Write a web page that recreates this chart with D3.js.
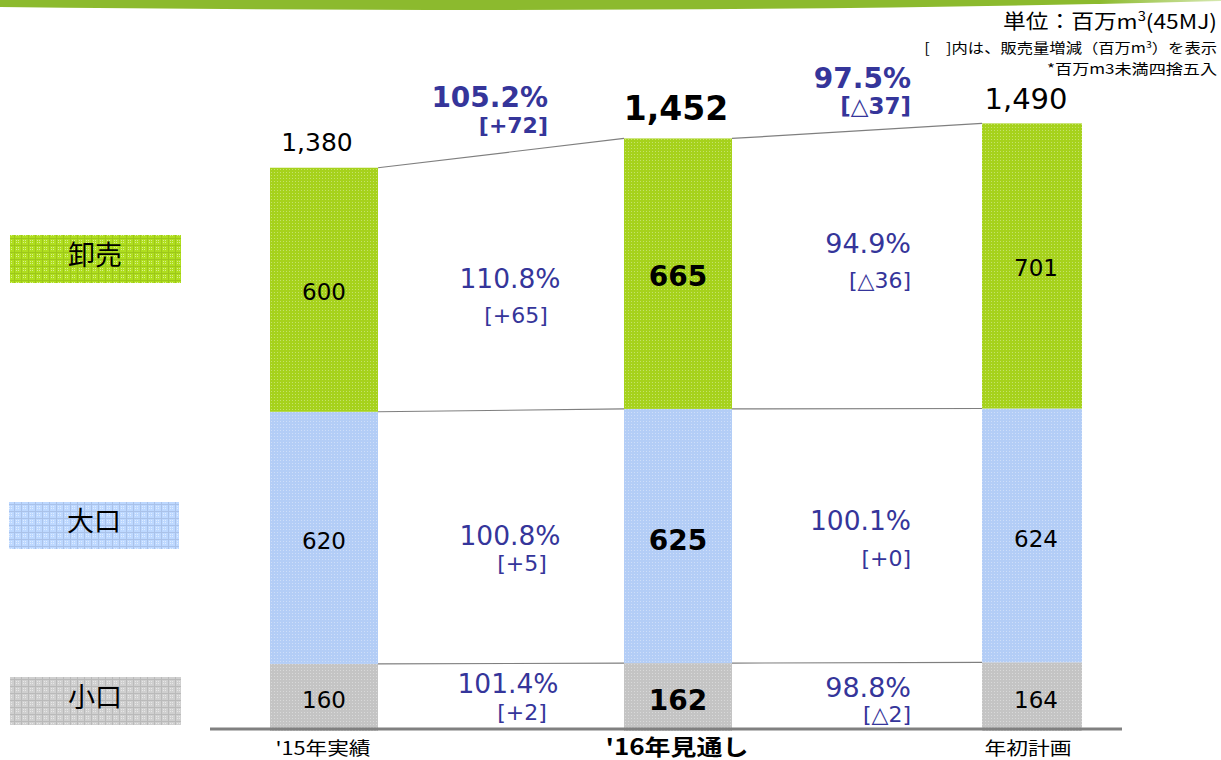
<!DOCTYPE html>
<html><head><meta charset="utf-8">
<script src="https://cdn.jsdelivr.net/npm/d3@7"></script>
<style>
html,body{margin:0;padding:0;background:#fff;}
svg{display:block;}
text{font-family:"DejaVu Sans","Noto Sans CJK JP",sans-serif;}
.jp{font-family:"Noto Sans CJK JP","DejaVu Sans",sans-serif;}
</style></head>
<body>
<script>
const categories = ["'15年実績", "'16年見通し", "年初計画"];
const segments = ["小口", "大口", "卸売"];
const small = [160, 162, 164];
const large = [620, 625, 624];
const wholesale = [600, 665, 701];
const totals = [1380, 1452, 1490];
const totalLabels = ["1,380", "1,452", "1,490"];
// change annotations between adjacent bars: [pct, diff]
const changeTotal = [["105.2%", "[+72]"], ["97.5%", "[△37]"]];
const changeWholesale = [["110.8%", "[+65]"], ["94.9%", "[△36]"]];
const changeLarge = [["100.8%", "[+5]"], ["100.1%", "[+0]"]];
const changeSmall = [["101.4%", "[+2]"], ["98.8%", "[△2]"]];

const W = 1221, H = 760;
const svg = d3.select("body").append("svg").attr("width", W).attr("height", H);
const defs = svg.append("defs");

// horizontally stretch a text to a target width, keeping its anchor
function fitWidth(sel, target, anchor) {
  const node = sel.node();
  const bb = node.getBBox();
  const sx = target / bb.width;
  const ax = anchor === "end" ? bb.x + bb.width : anchor === "middle" ? bb.x + bb.width / 2 : bb.x;
  sel.attr("transform", `translate(${ax},0) scale(${sx},1) translate(${-ax},0)`);
}

// top swoosh
const g0 = defs.append("linearGradient").attr("id", "topg").attr("x1", 0).attr("x2", 1);
g0.append("stop").attr("offset", 0).attr("stop-color", "#8cba2e");
g0.append("stop").attr("offset", 0.9).attr("stop-color", "#8cba2e");
g0.append("stop").attr("offset", 1).attr("stop-color", "#d6e8b0");
svg.append("path").attr("d", "M0,0 L1221,0 L1221,1 Q700,15 0,7 Z").attr("fill", "url(#topg)");

const colors = {"卸売": "#a6d21c", "大口": "#b3cdf6", "小口": "#c4c4c4"};
const keyId = {"卸売": "w", "大口": "l", "小口": "s"};
Object.entries(colors).forEach(([k, c]) => {
  const p = defs.append("pattern").attr("id", "bar-" + keyId[k]).attr("patternUnits", "userSpaceOnUse").attr("width", 3).attr("height", 3);
  p.append("rect").attr("width", 3).attr("height", 3).attr("fill", c);
  p.append("rect").attr("x", 1).attr("y", 1).attr("width", 1).attr("height", 1).attr("fill", "#fff").attr("opacity", 0.35);
  const q = defs.append("pattern").attr("id", "leg-" + keyId[k]).attr("patternUnits", "userSpaceOnUse").attr("width", 7).attr("height", 7);
  q.append("rect").attr("width", 7).attr("height", 7).attr("fill", d3.color(c).brighter(0.15));
  q.append("rect").attr("width", 7).attr("height", 1).attr("fill", d3.color(c).darker(0.15));
  q.append("rect").attr("width", 1).attr("height", 7).attr("fill", d3.color(c).darker(0.15));
  [[2, 2], [4, 4], [2, 4], [4, 2]].forEach(([a, b]) =>
    q.append("rect").attr("x", a).attr("y", b).attr("width", 1).attr("height", 1).attr("fill", "#fff").attr("opacity", 0.5));
});

const x = d3.scalePoint().domain(categories).range([324, 1032]);
const bw = [108, 108, 100];
const y = d3.scaleLinear().domain([0, 1490]).range([729, 123]);

const rows = categories.map((c, i) => ({cat: c, "小口": small[i], "大口": large[i], "卸売": wholesale[i]}));
const stack = d3.stack().keys(segments)(rows);

const purple = "#35359a";
// connector lines
stack.forEach(layer => {
  for (let i = 0; i < 2; i++) {
    svg.append("line")
      .attr("x1", x(categories[i]) + bw[i] / 2).attr("x2", x(categories[i + 1]) - bw[i + 1] / 2)
      .attr("y1", y(layer[i][1])).attr("y2", y(layer[i + 1][1]))
      .attr("stroke", "#7f7f7f").attr("stroke-width", 1.2);
  }
});

// bars
stack.forEach(layer => {
  svg.append("g").selectAll("rect").data(layer).join("rect")
    .attr("x", (d, i) => x(categories[i]) - bw[i] / 2)
    .attr("width", (d, i) => bw[i])
    .attr("y", d => y(d[1]))
    .attr("height", d => y(d[0]) - y(d[1]) + (layer.key === "小口" ? 2 : 0))
    .attr("fill", "url(#bar-" + keyId[layer.key] + ")");
});

// axis baseline
const axis = d3.axisBottom(x).tickSize(0).tickFormat("");
const ag = svg.append("g").attr("transform", `translate(0,${y(0)})`).call(axis);
ag.select(".domain").attr("d", "M210,0H1122").attr("stroke", "#808080").attr("stroke-width", 3);

// x labels
const xl = [{s: 18, w: "normal", dx: -1, tw: 95}, {s: 22, w: "bold", dx: -1, tw: 143}, {s: 18, w: "normal", dx: -4, tw: 87}];
categories.forEach((c, i) => {
  const t = svg.append("text").attr("class", "jp").attr("x", x(c) + xl[i].dx).attr("y", 755).attr("text-anchor", "middle")
    .attr("font-size", xl[i].s).attr("font-weight", xl[i].w).attr("fill", "#000").text(c);
  fitWidth(t, xl[i].tw, "middle");
});

// segment value labels
const segLabY = {"卸売": [292, 276, 268], "大口": [541, 540, 539], "小口": [700, 700, 700]};
stack.forEach(layer => {
  layer.forEach((d, i) => {
    const bold = i === 1;
    svg.append("text").attr("x", x(categories[i]) + (i === 2 ? 4 : 0)).attr("y", segLabY[layer.key][i])
      .attr("text-anchor", "middle").attr("dominant-baseline", "central")
      .attr("font-size", bold ? 28 : 23).attr("font-weight", bold ? "bold" : "normal").attr("fill", "#000")
      .text(d[1] - d[0]);
  });
});

// totals
const totPos = [{dx: -7, yy: 142, s: 25, w: "normal"}, {dx: -2, yy: 108, s: 33, w: "bold"}, {dx: -6, yy: 99, s: 29, w: "normal"}];
totals.forEach((t, i) => {
  svg.append("text").attr("x", x(categories[i]) + totPos[i].dx).attr("y", totPos[i].yy)
    .attr("text-anchor", "middle").attr("dominant-baseline", "central")
    .attr("font-size", totPos[i].s).attr("font-weight", totPos[i].w).attr("fill", "#000").text(totalLabels[i]);
});

// change annotations
function ann(txt, xx, yy, size, weight, anchor) {
  svg.append("text").attr("x", xx).attr("y", yy).attr("text-anchor", anchor).attr("dominant-baseline", "central")
    .attr("font-size", size).attr("font-weight", weight).attr("fill", purple).text(txt);
}
ann(changeTotal[0][0], 548, 97, 28, "bold", "end");
ann(changeTotal[0][1], 548, 125, 22, "bold", "end");
ann(changeTotal[1][0], 911, 78, 28, "bold", "end");
ann(changeTotal[1][1], 911, 106, 23, "bold", "end");

ann(changeWholesale[0][0], 510, 278, 26.5, "normal", "middle");
ann(changeWholesale[0][1], 516, 315, 22, "normal", "middle");
ann(changeWholesale[1][0], 911, 243, 27, "normal", "end");
ann(changeWholesale[1][1], 911, 280, 22, "normal", "end");

ann(changeLarge[0][0], 510, 535, 26.5, "normal", "middle");
ann(changeLarge[0][1], 522, 563, 22, "normal", "middle");
ann(changeLarge[1][0], 911, 520, 26.5, "normal", "end");
ann(changeLarge[1][1], 911, 558, 22, "normal", "end");

ann(changeSmall[0][0], 508, 683, 26.5, "normal", "middle");
ann(changeSmall[0][1], 522, 712, 22, "normal", "middle");
ann(changeSmall[1][0], 911, 687, 27, "normal", "end");
ann(changeSmall[1][1], 911, 714, 22, "normal", "end");

// legend patches
const legPos = {"卸売": [10, 235, 171, 48], "大口": [9, 502, 170, 47], "小口": [10, 677, 171, 48]};
segments.forEach(k => {
  const [lx, ly, lw, lh] = legPos[k];
  svg.append("rect").attr("x", lx).attr("y", ly).attr("width", lw).attr("height", lh).attr("fill", "url(#leg-" + keyId[k] + ")");
  svg.append("text").attr("class", "jp").attr("x", lx + 85).attr("y", ly + lh / 2 - 6).attr("text-anchor", "middle")
    .attr("dominant-baseline", "central").attr("font-size", 27).attr("fill", "#000").text(k);
});

// unit notes
const un = svg.append("text").attr("class", "jp").attr("x", 1217).attr("y", 29).attr("text-anchor", "end").attr("font-size", 20).attr("fill", "#000");
un.append("tspan").text("単位：百万m");
un.append("tspan").attr("font-size", 13).attr("dy", -8).text("3");
un.append("tspan").attr("dy", 8).text("(45MJ)");
fitWidth(un, 214, "end");
const n2 = svg.append("text").attr("class", "jp").attr("x", 1217).attr("y", 53).attr("text-anchor", "end").attr("font-size", 14).attr("fill", "#000");
n2.append("tspan").text("[　]内は、販売量増減（百万m");
n2.append("tspan").attr("font-size", 9).attr("dy", -5).text("3");
n2.append("tspan").attr("dy", 5).text("）を表示");
fitWidth(n2, 293, "end");
const n3 = svg.append("text").attr("class", "jp").attr("x", 1217).attr("y", 74).attr("text-anchor", "end").attr("font-size", 14).attr("fill", "#000").text("*百万m3未満四捨五入");
fitWidth(n3, 170, "end");
</script>
</body></html>
